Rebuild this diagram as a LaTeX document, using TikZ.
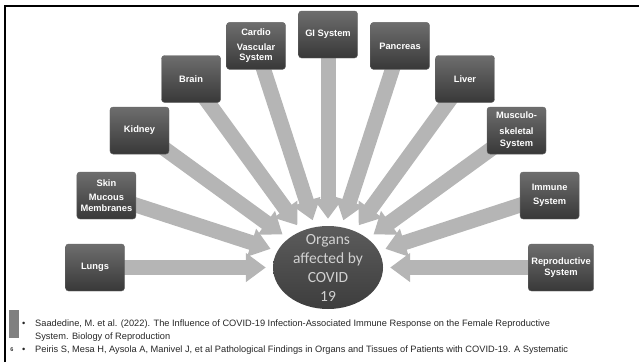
\documentclass[tikz,border=0pt]{standalone}
\usepackage{fontspec}
\setmainfont{Liberation Sans}
\newfontfamily\hubfont{Carlito}
\usetikzlibrary{positioning, arrows.meta, calc, backgrounds, shapes.geometric}

\begin{document}
\begin{tikzpicture}[x=1pt, y=-1pt,
    organ/.style={rounded corners=3pt, draw=black!60, top color=black!57, bottom color=black!78,
                  text=white, font=\fontsize{9.3}{10.5}\selectfont\bfseries, align=center,
                  minimum width=59pt, minimum height=47pt, inner xsep=3pt, inner ysep=2pt},
    hub/.style={ellipse, top color=black!64, bottom color=black!76, minimum width=110pt,
                minimum height=83pt, inner sep=0pt},
    hubtext/.style={text=black!18, font=\hubfont\fontsize{15.5}{19}\selectfont, align=center},
    feed/.style={line width=15pt, draw=black!29, -{Triangle[width=28pt, length=20pt]},
                 shorten >=7pt},
    ref/.style={font=\fontsize{9.25}{13}\selectfont, text=black!85, anchor=base west, inner sep=0pt}
]
\useasboundingbox (0,0) rectangle (639,362);
% slide frame
\draw[line width=2pt] (5,362) -- (5,6) -- (639,6);

\node[hub, label={[hubtext]center:{Organs\\affected by\\COVID\\19}}] (hub) at (328,267.5) {};

\foreach \ang/\nm/\txt in {0/repro/{Reproductive\\System}, 18/immune/{Immune\\[4pt]System},
    36/musc/{Musculo-\\[5pt]skeletal\\[2pt]System}, 54/liver/Liver, 72/pancreas/Pancreas,
    90/gi/GI System, 108/cardio/{Cardio\\[4pt]Vascular\\System}, 126/brain/Brain,
    144/kidney/Kidney, 162/skin/{Skin\\[3.5pt]Mucous\\Membranes}, 180/lungs/Lungs}
  {\node[organ] (\nm) at ($(hub)+(\ang:233pt)$) {\txt};}

\begin{scope}[on background layer]
\foreach \nm in {repro, immune, musc, liver, pancreas, gi, cardio, brain, kidney, skin, lungs}
  {\draw[feed] (\nm.center) -- (hub);}
\end{scope}

% references
\fill[black!50] (9,310) rectangle (19,338);
\node[font=\fontsize{5.5}{6}\selectfont\bfseries, text=black!80] (slideno) at (12,350) {6};
\node[ref] (dot1) at (22,326) {•};
\node[ref] (ref1) at (35,326) {Saadedine, M. et al. (2022). The Influence of COVID-19 Infection-Associated Immune Response on the Female Reproductive};
\node[ref] (ref1b) at (35,339) {System. Biology of Reproduction};
\node[ref] (dot2) at (22,352) {•};
\node[ref] (ref2) at (35,352) {Peiris S, Mesa H, Aysola A, Manivel J, et al Pathological Findings in Organs and Tissues of Patients with COVID-19. A Systematic};
\end{tikzpicture}
\end{document}
